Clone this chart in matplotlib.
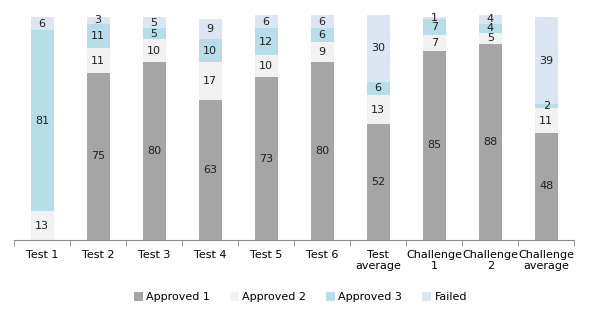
import matplotlib.pyplot as plt
import numpy as np

categories = ["Test 1", "Test 2", "Test 3", "Test 4", "Test 5", "Test 6",
              "Test\naverage", "Challenge\n1", "Challenge\n2", "Challenge\naverage"]
approved1 = [0, 75, 80, 63, 73, 80, 52, 85, 88, 48]
approved2 = [13, 11, 10, 17, 10, 9, 13, 7, 5, 11]
approved3 = [81, 11, 5, 10, 12, 6, 6, 7, 4, 2]
failed = [6, 3, 5, 9, 6, 6, 30, 1, 4, 39]

series = [("Approved 1", approved1, "#A5A5A5"),
          ("Approved 2", approved2, "#F2F2F2"),
          ("Approved 3", approved3, "#B7DDE8"),
          ("Failed", failed, "#DCE6F2")]

fig = plt.figure(figsize=(5.89, 3.23), dpi=100)
ax = fig.add_axes([0.024, 0.257, 0.951, 0.697])

x = np.arange(len(categories))
bottom = np.zeros(len(categories))
for name, vals, col in series:
    vals = np.array(vals, dtype=float)
    ax.bar(x, vals, 0.41, bottom=bottom, color=col, label=name, edgecolor='none')
    for xi, b, v in zip(x, bottom, vals):
        if v > 0:
            ax.text(xi, b + v / 2, str(int(v)), ha='center', va='center', fontsize=8, color='#202020')
    bottom += vals

ax.set_xlim(-0.5, len(categories) - 0.5)
ax.set_ylim(0, 101)
ax.set_yticks([])
for s in ['top', 'right', 'left']:
    ax.spines[s].set_visible(False)
ax.spines['bottom'].set_color('#888888')
ax.set_xticks(x)
ax.set_xticklabels(categories, fontsize=8)
ax.tick_params(axis='x', length=0, pad=7)
ax.set_xticks(np.arange(-0.5, len(categories)), minor=True)
ax.tick_params(axis='x', which='minor', length=4, color='#888888', direction='out')

fig.legend(loc='center', bbox_to_anchor=(0.51, 0.08), ncol=4, frameon=False,
           fontsize=8, handlelength=0.8, handleheight=0.8, handletextpad=0.3, columnspacing=1.8)

plt.savefig("out.png", dpi=100)
